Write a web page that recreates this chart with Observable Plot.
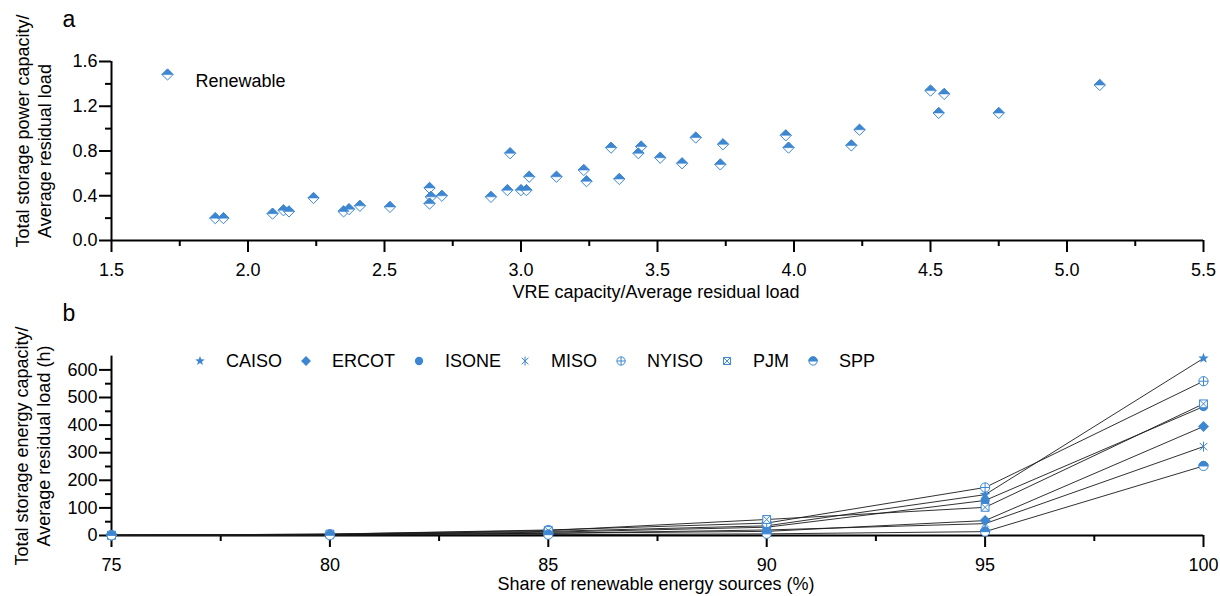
<!DOCTYPE html>
<html><head><meta charset="utf-8">
<script src="https://cdn.jsdelivr.net/npm/d3@7"></script>
<script src="https://cdn.jsdelivr.net/npm/@observablehq/plot@0.6"></script>
<style>
body{margin:0;background:#fff;}
#wrap{width:1220px;height:596px;position:relative;overflow:hidden;background:#fff}
#wrap svg{display:block;position:absolute;left:0}
</style></head><body><div id="wrap"></div>
<script>
// ---------- Panel a data ----------
const vreCapacity = [1.88,1.91,2.09,2.13,2.15,2.24,2.35,2.37,2.41,2.52,2.665,2.67,2.665,2.71,2.89,2.95,2.96,3.00,3.02,3.03,3.13,3.23,3.24,3.33,3.36,3.43,3.44,3.51,3.59,3.64,3.73,3.74,3.97,3.98,4.21,4.24,4.50,4.53,4.55,4.75,5.12];
const storagePower = [0.20,0.20,0.24,0.27,0.26,0.38,0.26,0.28,0.31,0.30,0.47,0.39,0.33,0.40,0.39,0.45,0.78,0.45,0.45,0.57,0.57,0.63,0.53,0.83,0.55,0.78,0.84,0.74,0.69,0.92,0.68,0.86,0.94,0.83,0.85,0.99,1.34,1.14,1.31,1.14,1.39];
const legendA = "Renewable";
const xTicksA = [1.5,2.0,2.5,3.0,3.5,4.0,4.5,5.0,5.5];
const xMinorA = [1.75,2.25,2.75,3.25,3.75,4.25,4.75,5.25];
const yTicksA = [0,0.4,0.8,1.2,1.6];
const yMinorA = [0.2,0.6,1.0,1.4];

// ---------- Panel b data ----------
const shareRES = [75, 80, 85, 90, 95, 100];
const regionNames = ["CAISO","ERCOT","ISONE","MISO","NYISO","PJM","SPP"];
const caiso = [1, 4, 15, 35, 148, 642];
const ercot = [0.5, 2, 8, 15, 54, 395];
const isone = [1, 3, 12, 30, 127, 467];
const miso  = [0.5, 2, 8, 20, 43, 322];
const nyiso = [1, 5, 20, 45, 174, 559];
const pjm   = [1, 5, 18, 58, 102, 477];
const spp   = [0.5, 1, 3, 6, 14, 252];
const xTicksB = [75,80,85,90,95,100];
const xMinorB = [77.5,82.5,87.5,92.5,97.5];
const yTicksB = [0,100,200,300,400,500,600];
const yMinorB = [50,150,250,350,450,550];

// ---------- styling ----------
const font = "'Liberation Sans', Arial, Helvetica, sans-serif";
const blue = "#3d86d2";
const fmt1 = d3.format(".1f");

function sym(fn){ return {draw(c, size){ fn(c, Math.sqrt(size/Math.PI)); }}; }
const diamond = sym((c,r)=>{c.moveTo(0,-r);c.lineTo(r,0);c.lineTo(0,r);c.lineTo(-r,0);c.closePath();});
const diamondTop = sym((c,r)=>{c.moveTo(0,-r);c.lineTo(r,0);c.lineTo(-r,0);c.closePath();});
const circle = sym((c,r)=>{c.moveTo(r,0);c.arc(0,0,r,0,2*Math.PI);});
const halfTop = sym((c,r)=>{c.moveTo(-r,0);c.arc(0,0,r,Math.PI,2*Math.PI);c.closePath();});
const star = sym((c,r)=>{const ri=r*0.42;for(let k=0;k<10;k++){const a=-Math.PI/2+k*Math.PI/5;const rr=k%2?ri:r;const px=rr*Math.cos(a),py=rr*Math.sin(a);k?c.lineTo(px,py):c.moveTo(px,py);}c.closePath();});
const asterisk = sym((c,r)=>{c.moveTo(0,-r);c.lineTo(0,r);const d=r*0.75;c.moveTo(-d,-d);c.lineTo(d,d);c.moveTo(-d,d);c.lineTo(d,-d);});
const circlePlus = sym((c,r)=>{c.moveTo(r,0);c.arc(0,0,r,0,2*Math.PI);c.moveTo(-r,0);c.lineTo(r,0);c.moveTo(0,-r);c.lineTo(0,r);});
const squareX = sym((c,r)=>{const s=r*0.85;c.moveTo(-s,-s);c.lineTo(s,-s);c.lineTo(s,s);c.lineTo(-s,s);c.closePath();c.moveTo(-s,-s);c.lineTo(s,s);c.moveTo(-s,s);c.lineTo(s,-s);});

const seriesStyle = {
  CAISO: [{symbol: star, r: 5.5, fill: blue, stroke: "none"}],
  ERCOT: [{symbol: diamond, r: 5.5, fill: blue, stroke: "none"}],
  ISONE: [{symbol: circle, r: 4.6, fill: blue, stroke: "none"}],
  MISO:  [{symbol: asterisk, r: 5, fill: "none", stroke: blue, strokeWidth: 1}],
  NYISO: [{symbol: circlePlus, r: 4.6, fill: "white", stroke: blue, strokeWidth: 1}],
  PJM:   [{symbol: squareX, r: 4.6, fill: "white", stroke: blue, strokeWidth: 1}],
  SPP:   [{symbol: circle, r: 4.6, fill: "white", stroke: blue, strokeWidth: 1},
          {symbol: halfTop, r: 4.6, fill: blue, stroke: blue, strokeWidth: 1}]
};
const valuesByRegion = {CAISO: caiso, ERCOT: ercot, ISONE: isone, MISO: miso, NYISO: nyiso, PJM: pjm, SPP: spp};
const tableB = regionNames.flatMap(name => shareRES.map((s, i) => ({region: name, share: s, value: valuesByRegion[name][i]})));
const tableA = vreCapacity.map((v, i) => ({vre: v, power: storagePower[i]}));

const baseStyle = {fontFamily: font, fontSize: "18px", color: "#000", background: "transparent", overflow: "visible"};
const wrap = document.getElementById("wrap");

// ---------- Panel a ----------
const plotA = Plot.plot({
  width: 1220, height: 300, marginLeft: 111, marginRight: 17, marginTop: 61, marginBottom: 60,
  style: baseStyle,
  x: {domain: [1.5, 5.5]}, y: {domain: [0, 1.6]},
  marks: [
    Plot.axisX({ticks: xTicksA, tickSize: 12, tickPadding: 11, tickFormat: fmt1, strokeWidth: 2, label: null}),
    Plot.axisX({ticks: xMinorA, tickSize: 6, tickFormat: () => "", strokeWidth: 2, label: null}),
    Plot.axisY({ticks: yTicksA, tickSize: 12, tickPadding: 2, tickFormat: fmt1, strokeWidth: 2, label: null}),
    Plot.axisY({ticks: yMinorA, tickSize: 6, tickFormat: () => "", strokeWidth: 2, label: null}),
    Plot.ruleY([0], {strokeWidth: 2}),
    Plot.ruleX([1.5], {strokeWidth: 2}),
    Plot.dot(tableA, {x: "vre", y: "power", symbol: diamond, r: 5.6, fill: "white", stroke: blue, strokeWidth: 1}),
    Plot.dot(tableA, {x: "vre", y: "power", symbol: diamondTop, r: 5.6, fill: blue, stroke: blue, strokeWidth: 0.6}),
    Plot.dot([legendA], {frameAnchor: "top-left", dx: 56, dy: 13, symbol: diamond, r: 5.6, fill: "white", stroke: blue, strokeWidth: 1}),
    Plot.dot([legendA], {frameAnchor: "top-left", dx: 56, dy: 13, symbol: diamondTop, r: 5.6, fill: blue, stroke: blue, strokeWidth: 0.6}),
    Plot.text([legendA], {frameAnchor: "top-left", dx: 84, dy: 13, text: d => d, textAnchor: "start", fontSize: 18})
  ]
});
plotA.style.top = "0px";
wrap.appendChild(plotA);

// ---------- Panel b ----------
const dotMarks = regionNames.flatMap(name => seriesStyle[name].map(st =>
  Plot.dot(tableB.filter(d => d.region === name), {x: "share", y: "value", ...st})));
const plotB = Plot.plot({
  width: 1220, height: 296, marginLeft: 111, marginRight: 17, marginTop: 55.6, marginBottom: 61,
  style: baseStyle,
  x: {domain: [75, 100]}, y: {domain: [0, 650]},
  marks: [
    Plot.axisX({ticks: xTicksB, tickSize: 12, tickPadding: 11, tickFormat: d3.format("d"), strokeWidth: 2, label: null}),
    Plot.axisX({ticks: xMinorB, tickSize: 6, tickFormat: () => "", strokeWidth: 2, label: null}),
    Plot.axisY({ticks: yTicksB, tickSize: 12, tickPadding: 2, tickFormat: d3.format("d"), strokeWidth: 2, label: null}),
    Plot.axisY({ticks: yMinorB, tickSize: 6, tickFormat: () => "", strokeWidth: 2, label: null}),
    Plot.ruleY([0], {strokeWidth: 2}),
    Plot.ruleX([75], {strokeWidth: 2}),
    Plot.line(tableB, {x: "share", y: "value", z: "region", stroke: "#1a1a1a", strokeWidth: 0.9}),
    ...dotMarks
  ]
});
plotB.style.top = "300px";
wrap.appendChild(plotB);

// ---------- titles ----------
function addText(svg, x, y, str, size, anchor, rotate) {
  const t = d3.select(svg).append("text")
    .attr("transform", `translate(${x},${y})` + (rotate ? ` rotate(${rotate})` : ""))
    .attr("text-anchor", anchor).attr("font-size", size).attr("font-family", font).attr("fill", "#000")
    .text(str);
  return t;
}
addText(plotA, 69, 27, "a", 23, "middle");
addText(plotA, 656, 298, "VRE capacity/Average residual load", 18, "middle");
addText(plotA, 29, 131, "Total storage power capacity/", 18, "middle", -90);
addText(plotA, 51, 151, "Average residual load", 18, "middle", -90);

addText(plotB, 69, 21, "b", 23, "middle");
addText(plotB, 656, 290, "Share of renewable energy sources (%)", 18, "middle");
addText(plotB, 28, 146, "Total storage energy capacity/", 18, "middle", -90);
addText(plotB, 50, 146, "Average residual load (h)", 18, "middle", -90);

// ---------- legend b ----------
const lg = d3.select(plotB).append("g").attr("transform", "translate(0,61)");
let lx = 200;
regionNames.forEach(name => {
  seriesStyle[name].forEach(st => {
    const p = d3.path();
    const rr = st.r * 0.9;
    st.symbol.draw(p, rr * rr * Math.PI);
    lg.append("path").attr("d", p.toString()).attr("transform", `translate(${lx},0)`)
      .attr("fill", st.fill).attr("stroke", st.stroke).attr("stroke-width", st.strokeWidth || 0);
  });
  const t = lg.append("text").attr("x", lx + 26).attr("y", 0).attr("dy", "0.35em")
    .attr("font-size", 18).attr("font-family", font).attr("text-anchor", "start").text(name);
  lx += 26 + t.node().getComputedTextLength() + 24;
});
</script></body></html>
